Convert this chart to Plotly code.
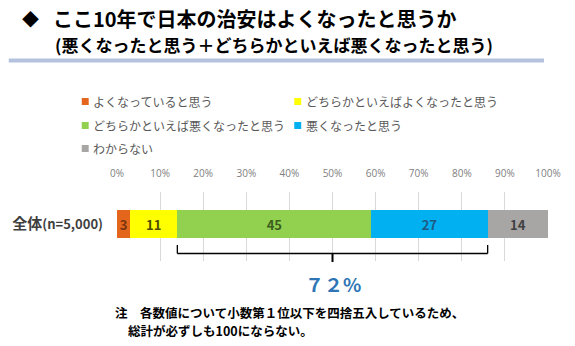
import plotly.graph_objects as go

# ---- data ----
categories = ["全体(n=5,000)"]
series_names = [
    "よくなっていると思う",
    "どちらかといえばよくなったと思う",
    "どちらかといえば悪くなったと思う",
    "悪くなったと思う",
    "わからない",
]
values = [3, 11, 45, 27, 14]
x_tick_vals = [0, 10, 20, 30, 40, 50, 60, 70, 80, 90, 100]
x_tick_labels = [f"{v}%" for v in x_tick_vals]

# ---- styles ----
bar_colors = ["#E4661C", "#FFFF00", "#92D050", "#00B0F0", "#A8A5A5"]
text_colors = ["#7A3510", "#4D4D00", "#3B5E1C", "#1F5A85", "#404040"]
JP = "Noto Sans CJK JP"

W, H = 575, 346
L, R, T, B = 114, 27, 192, 85
PW, PH = W - L - R, H - T - B


def px(x):
    return (x - L) / PW


def py(y):
    return (H - B - y) / PH


fig = go.Figure()
for name, v, c, tc in zip(series_names, values, bar_colors, text_colors):
    fig.add_trace(go.Bar(
        y=categories, x=[v], name=name, orientation="h",
        marker=dict(color=c, line=dict(width=0)),
        width=0.41,
        text=[v], textposition="inside", insidetextanchor="middle",
        constraintext="none",
        textfont=dict(color=tc, size=13, family=JP, weight="bold"),
        showlegend=False, hoverinfo="skip",
    ))

shapes = []
annotations = []

# title rule
shapes.append(dict(type="line", xref="paper", yref="paper",
                   x0=px(5), x1=px(544), y0=py(60.5), y1=py(60.5),
                   line=dict(color="#B4C2DE", width=4)))

# titles
annotations.append(dict(xref="paper", yref="paper", x=px(16), y=py(18),
                        xanchor="left", yanchor="middle", showarrow=False,
                        text="<b>◆</b>", font=dict(family=JP, size=17, color="#000000")))
annotations.append(dict(xref="paper", yref="paper", x=px(48), y=py(18),
                        xanchor="left", yanchor="middle", showarrow=False,
                        text="<b>ここ10年で日本の治安はよくなったと思うか</b>",
                        font=dict(family=JP, size=20, color="#000000")))
annotations.append(dict(xref="paper", yref="paper", x=px(50), y=py(44),
                        xanchor="left", yanchor="middle", showarrow=False,
                        text="<b>(悪くなったと思う＋どちらかといえば悪くなったと思う)</b>",
                        font=dict(family=JP, size=17, color="#000000")))

# manual legend (2 columns)
legend_pos = [(82, 101.5), (296, 101.5), (82, 125.5), (296, 125.5), (82, 148.5)]
for (lx, ly), name, c in zip(legend_pos, series_names, bar_colors):
    shapes.append(dict(type="rect", xref="paper", yref="paper",
                       x0=px(lx - 3.5), x1=px(lx + 3.5), y0=py(ly + 3.5), y1=py(ly - 3.5),
                       fillcolor=c, line=dict(width=0)))
    annotations.append(dict(xref="paper", yref="paper", x=px(lx + 6), y=py(ly),
                            xanchor="left", yanchor="middle", showarrow=False,
                            text=name, font=dict(family=JP, size=12, color="#595959")))

# bracket under the "bad" segments
left = values[0] + values[1]
right = left + values[2] + values[3]
mid = (left + right) / 2
yb = py(253.5)
bc = dict(color="#000000", width=1.3)
shapes += [
    dict(type="line", xref="x", yref="paper", x0=left, x1=left, y0=py(245), y1=yb, line=bc),
    dict(type="line", xref="x", yref="paper", x0=left, x1=right, y0=yb, y1=yb, line=bc),
    dict(type="line", xref="x", yref="paper", x0=right, x1=right, y0=py(245), y1=yb, line=bc),
    dict(type="line", xref="x", yref="paper", x0=mid, x1=mid, y0=yb, y1=py(262), line=dict(color="#000000", width=2)),
]
total_bad = values[2] + values[3]
fw = str.maketrans("0123456789", "０１２３４５６７８９")
annotations.append(dict(xref="x", yref="paper", x=mid, y=py(283),
                        xanchor="center", yanchor="middle", showarrow=False,
                        text=f"<b>{str(total_bad).translate(fw)}%</b>",
                        font=dict(family=JP, size=19, color="#2E75B6")))

# note (two lines)
annotations.append(dict(xref="paper", yref="paper", x=px(111), y=py(312.5),
                        xanchor="left", yanchor="middle", showarrow=False, borderpad=0,
                        text="<b>注　各数値について小数第１位以下を四捨五入しているため、</b>",
                        font=dict(family=JP, size=12.5, color="#000000")))
annotations.append(dict(xref="paper", yref="paper", x=px(124), y=py(330),
                        xanchor="left", yanchor="middle", showarrow=False, borderpad=0,
                        text="<b>総計が必ずしも100にならない。</b>",
                        font=dict(family=JP, size=12.5, color="#000000")))

fig.update_layout(
    width=W, height=H,
    margin=dict(l=L, r=R, t=T, b=B, pad=0),
    barmode="stack",
    paper_bgcolor="#FFFFFF", plot_bgcolor="#FFFFFF",
    font=dict(family=JP),
    shapes=shapes, annotations=annotations,
    showlegend=False,
    xaxis=dict(range=[0, 100], side="top", tickvals=x_tick_vals, ticktext=x_tick_labels,
               showgrid=True, gridcolor="#D9D9D9", gridwidth=1, zeroline=False,
               showline=False, ticks="", ticklabelstandoff=12,
               tickfont=dict(family="Open Sans", size=10, color="#808080"), fixedrange=True),
    yaxis=dict(type="category", range=[-0.536, 0.464], tickvals=categories,
               ticktext=["<b><span style='font-size:15px'>全体</span>(n=5,000)</b>"],
               showgrid=False, zeroline=False, showline=False, ticks="",
               ticklabelstandoff=13,
               tickfont=dict(family=JP, size=13, color="#3F3F3F"), fixedrange=True),
)

fig.write_html("out.html")
